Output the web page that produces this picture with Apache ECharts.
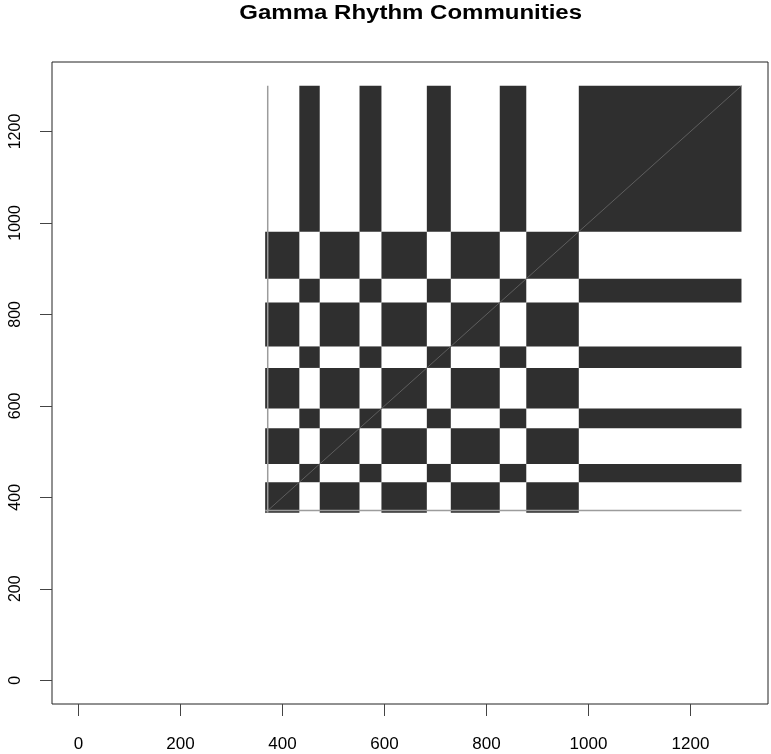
<!DOCTYPE html>
<html>
<head>
<meta charset="utf-8">
<script src="https://cdn.jsdelivr.net/npm/echarts@6/dist/echarts.min.js"></script>
<style>
  html, body { margin: 0; padding: 0; background: #fff; }
  #chart { width: 771px; height: 754px; }
</style>
</head>
<body>
<div id="chart"></div>
<script>
// node ranges of each segment along the axis (segment i = edges[i]..edges[i+1])
var segmentEdges = [366, 433, 473, 551, 594, 683, 730, 826, 878, 981, 1300]
// community of each segment
var segmentCommunity = [1, 2, 1, 2, 1, 2, 1, 2, 1, 2]
// diagonal (self) line and the grey row / column of node 371
var diagonalLine = [[366, 366], [1300, 1300]]
var greyColumn = [[371, 366], [371, 1300]]
var greyRow = [[366, 371], [1300, 371]]
var tickValues = [0, 200, 400, 600, 800, 1000, 1200]
var axisMin = -52
var axisMax = 1352

// build the co-membership cells: [x0, x1, y0, y1]
var cells = []
for (var i = 0; i < segmentCommunity.length; i++) {
  for (var j = 0; j < segmentCommunity.length; j++) {
    if (segmentCommunity[i] === segmentCommunity[j]) {
      cells.push([segmentEdges[i], segmentEdges[i + 1], segmentEdges[j], segmentEdges[j + 1]])
    }
  }
}

var myChart = echarts.init(document.getElementById('chart'), null, { renderer: 'canvas' })

function plainLabel(v) {
  return String(v)
}

var option = {
  animation: false,
  backgroundColor: '#ffffff',
  graphic: [
    {
      type: 'text',
      x: 410.7,
      y: 13,
      scaleX: 1.2,
      style: {
        text: 'Gamma Rhythm Communities',
        font: 'bold 20px "Liberation Sans", Arial, sans-serif',
        fill: '#000',
        align: 'center',
        verticalAlign: 'middle'
      }
    }
  ],
  grid: {
    left: 52,
    right: 3,
    top: 62,
    bottom: 50,
    show: true,
    borderColor: '#222',
    borderWidth: 1,
    backgroundColor: 'transparent'
  },
  xAxis: {
    type: 'value',
    min: axisMin,
    max: axisMax,
    splitLine: { show: false },
    axisLine: { show: false, onZero: false },
    axisTick: {
      show: true,
      length: 12,
      customValues: tickValues,
      lineStyle: { color: '#444', width: 1 }
    },
    axisLabel: {
      customValues: tickValues,
      formatter: plainLabel,
      margin: 32,
      color: '#000',
      fontSize: 17,
      fontFamily: 'Liberation Sans'
    }
  },
  yAxis: {
    type: 'value',
    min: axisMin,
    max: axisMax,
    splitLine: { show: false },
    axisLine: { show: false, onZero: false },
    axisTick: {
      show: true,
      length: 12,
      customValues: tickValues,
      lineStyle: { color: '#444', width: 1 }
    },
    axisLabel: {
      customValues: tickValues,
      formatter: plainLabel,
      rotate: 90,
      margin: 28,
      color: '#000',
      fontSize: 16,
      fontFamily: 'Liberation Sans'
    }
  },
  series: [
    {
      type: 'custom',
      name: 'communities',
      silent: true,
      data: cells,
      encode: { x: [0, 1], y: [2, 3] },
      renderItem: function(params, api) {
        var p0 = api.coord([api.value(0), api.value(3)])
        var p1 = api.coord([api.value(1), api.value(2)])
        return {
          type: 'rect',
          shape: { x: p0[0], y: p0[1], width: p1[0] - p0[0], height: p1[1] - p0[1] },
          style: { fill: '#2f2f2f' }
        }
      }
    },
    {
      type: 'line',
      data: diagonalLine,
      showSymbol: false,
      silent: true,
      lineStyle: { color: '#5e5e5e', width: 1 }
    },
    {
      type: 'line',
      data: greyColumn,
      showSymbol: false,
      silent: true,
      lineStyle: { color: '#9c9c9c', width: 1.5 }
    },
    {
      type: 'line',
      data: greyRow,
      showSymbol: false,
      silent: true,
      lineStyle: { color: '#9c9c9c', width: 1.5 }
    }
  ]
}

myChart.setOption(option)
</script>
</body>
</html>
